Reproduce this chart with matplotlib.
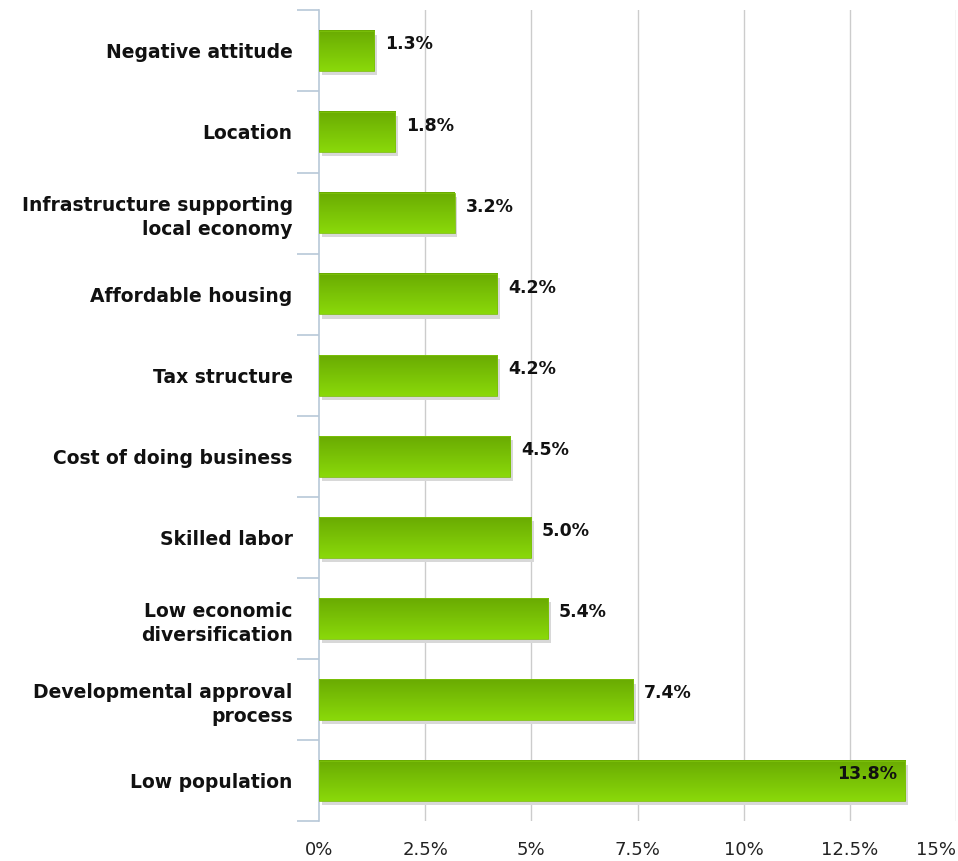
import matplotlib.pyplot as plt
import numpy as np

categories = ['Negative attitude', 'Location', 'Infrastructure supporting\nlocal economy',
              'Affordable housing', 'Tax structure', 'Cost of doing business',
              'Skilled labor', 'Low economic\ndiversification',
              'Developmental approval\nprocess', 'Low population']
values = [1.3, 1.8, 3.2, 4.2, 4.2, 4.5, 5.0, 5.4, 7.4, 13.8]
xticks = [0, 2.5, 5, 7.5, 10, 12.5, 15]
xticklabels = ['0%', '2.5%', '5%', '7.5%', '10%', '12.5%', '15%']

fig = plt.figure(figsize=(9.58, 8.61), dpi=100)
ax = fig.add_axes([0.333, 0.046, 0.665, 0.942])

n = len(categories)
ypos = np.arange(n)[::-1]
h = 0.5

grad = np.linspace(0, 1, 100).reshape(-1, 1)
cmap = plt.matplotlib.colors.LinearSegmentedColormap.from_list('g', ['#6aab02', '#8ad90a'])

for y, v in zip(ypos, values):
    # shadow
    ax.add_patch(plt.Rectangle((0.06, y - h / 2 - 0.05), v, h, color='#d8d8d8', zorder=2, lw=0))
    ax.imshow(grad, cmap=cmap, aspect='auto', extent=(0, v, y - h / 2, y + h / 2),
              origin='upper', zorder=3)
    ax.add_patch(plt.Rectangle((0, y - h / 2), v, h, fill=False, ec='#7cc20a', lw=0.6, zorder=4))
    if v > 10:
        ax.text(v - 0.2, y + 0.08, f'{v:.1f}%', ha='right', va='center', fontsize=12.5,
                fontweight='bold', color='#111111', zorder=5)
    else:
        ax.text(v + 0.25, y + 0.08, f'{v:.1f}%', ha='left', va='center', fontsize=12.5,
                fontweight='bold', color='#111111', zorder=5)

ax.set_xlim(0, 15)
ax.set_ylim(-0.5, n - 0.5)
ax.set_xticks(xticks)
ax.set_xticklabels(xticklabels, fontsize=13, color='#222222')
ax.get_xticklabels()[-1].set_horizontalalignment('right')
ax.set_yticks(ypos)
ax.set_yticklabels(categories, fontsize=13.5, fontweight='bold', color='#111111',
                   ha='right', linespacing=1.35)
ax.tick_params(axis='y', length=0, pad=19)
ax.tick_params(axis='x', length=0, pad=14)
ax.set_yticks(np.arange(-0.5, n, 1.0), minor=True)
ax.tick_params(axis='y', which='minor', length=16, color='#b8c8d8', width=1.2)

for x in xticks[1:]:
    ax.axvline(x, color='#cccccc', lw=1, zorder=1)

for s in ['top', 'right', 'bottom']:
    ax.spines[s].set_visible(False)
ax.spines['left'].set_color('#b8c8d8')
ax.spines['left'].set_linewidth(1.2)

plt.savefig('out.png', dpi=100)
plt.close()
